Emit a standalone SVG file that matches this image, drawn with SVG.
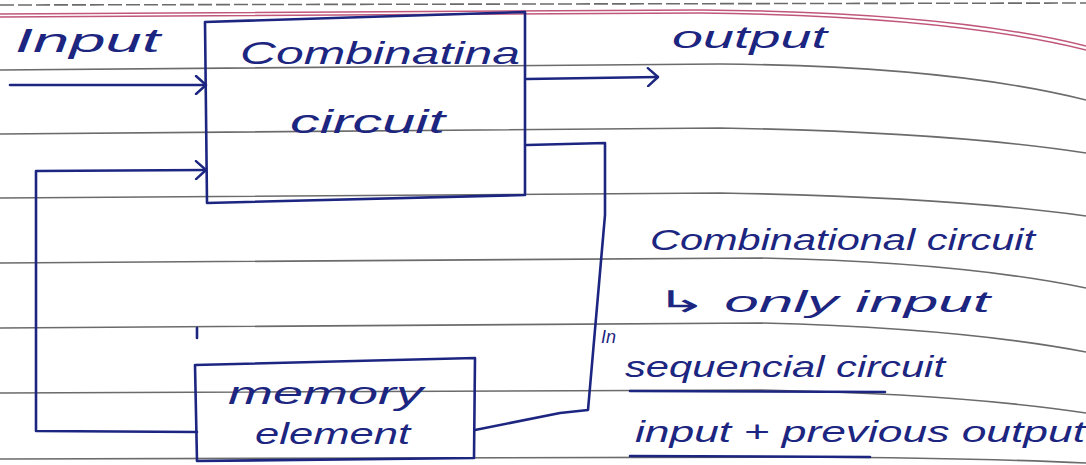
<svg xmlns="http://www.w3.org/2000/svg" width="1086" height="465" viewBox="0 0 1086 465">
<style>
.rule{fill:none;stroke:#6b6b6b;stroke-width:1.6}
.red{fill:none;stroke:#c0577a;stroke-width:1.5}
.ink{fill:none;stroke:#1c2580;stroke-width:2.6;stroke-linecap:round;stroke-linejoin:round}
.txt{font-family:"Liberation Sans","DejaVu Sans",sans-serif;fill:#1c2580;font-style:italic}
</style>
<defs>
<marker id="arr" viewBox="0 0 14 20" refX="13" refY="10" markerWidth="14" markerHeight="20" markerUnits="userSpaceOnUse" orient="auto">
<polyline points="3,1 13,10 3,19" fill="none" stroke="#1c2580" stroke-width="2.4" stroke-linecap="round" stroke-linejoin="round"/>
</marker>
</defs>
<rect width="1086" height="465" fill="#ffffff"/>
<g id="paper">
<path class="rule" d="M0,5 L1086,3" stroke-dasharray="14 4" stroke-width="1"/>
<path class="red" d="M0,14 L700,10 Q950,12 1086,46"/>
<path class="red" d="M0,17 L700,13 Q950,16 1086,50"/>
<path class="rule" d="M0,70 L720,64 Q950,66 1086,100"/>
<path class="rule" d="M0,134 L720,128 Q950,132 1086,153"/>
<path class="rule" d="M0,198 L720,193 Q950,197 1086,216"/>
<path class="rule" d="M0,263 L760,258 Q960,262 1086,288"/>
<path class="rule" d="M0,328 L760,323 Q960,328 1086,352"/>
<path class="rule" d="M0,393 L760,390 Q960,394 1086,413"/>
<path class="rule" d="M0,459 L800,457 Q980,458 1086,463"/>
</g>
<g id="connectors">
<path class="ink" d="M10,85 L206,85" marker-end="url(#arr)"/>
<path class="ink" d="M527,79 L658,77" marker-end="url(#arr)"/>
<path class="ink" d="M197,432 L36,431 L36,171 L206,170" marker-end="url(#arr)"/>
<path class="ink" d="M527,145 L605,143 L605,215 L588,410 L560,413 L475,430"/>
</g>
<g id="combinational">
<path class="ink" d="M205,22 L525,12 L525,195 L207,203 Z"/>
<text class="txt" x="240" y="64" font-size="32" textLength="280" lengthAdjust="spacingAndGlyphs">Combinatina</text>
<text class="txt" x="290" y="133" font-size="34" textLength="155" lengthAdjust="spacingAndGlyphs">circuit</text>
</g>
<g id="memory">
<path class="ink" d="M197,328 L197,338"/>
<path class="ink" d="M195,365 L475,358 L474,458 L197,461 Z"/>
<text class="txt" x="228" y="404" font-size="32" textLength="195" lengthAdjust="spacingAndGlyphs">memory</text>
<text class="txt" x="255" y="444" font-size="30" textLength="155" lengthAdjust="spacingAndGlyphs">element</text>
</g>
<g id="labels">
<text class="txt" x="15" y="52" font-size="34" textLength="145" lengthAdjust="spacingAndGlyphs">Input</text>
<text class="txt" x="672" y="48" font-size="32" textLength="155" lengthAdjust="spacingAndGlyphs">output</text>
</g>
<g id="notes">
<text class="txt" x="650" y="250" font-size="30" textLength="385" lengthAdjust="spacingAndGlyphs">Combinational circuit</text>
<text class="txt" x="655" y="312" font-size="30" textLength="335" lengthAdjust="spacingAndGlyphs">↳ only input</text>
<text class="txt" x="601" y="343" font-size="18">In</text>
<text class="txt" x="625" y="377" font-size="30" textLength="320" lengthAdjust="spacingAndGlyphs">sequencial circuit</text>
<path class="ink" d="M630,391 L885,392" stroke-width="1.6"/>
<text class="txt" x="635" y="442" font-size="30" textLength="450" lengthAdjust="spacingAndGlyphs">input + previous output</text>
<path class="ink" d="M630,456 L870,457" stroke-width="1.6"/>
</g>
</svg>
